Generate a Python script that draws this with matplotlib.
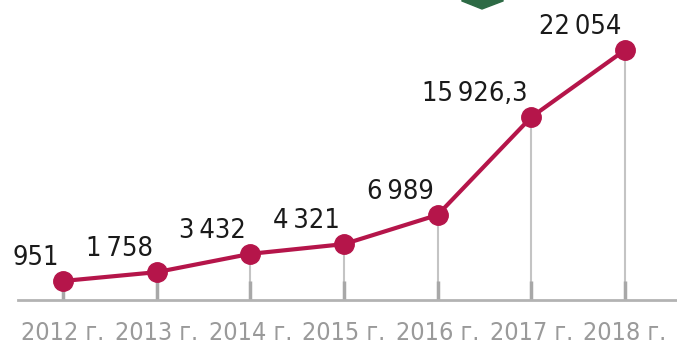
import numpy as np
import matplotlib.pyplot as plt
from matplotlib.patches import Polygon

# ========== данные ==========
years = ['2012 г.', '2013 г.', '2014 г.', '2015 г.', '2016 г.', '2017 г.', '2018 г.']
values = [951, 1758, 3432, 4321, 6989, 15926.3, 22054]
value_labels = ['951', '1758', '3432', '4321', '6989', '15926,3', '22054']
# =============================

LINE_COLOR = '#b5154a'
plt.rcParams['font.family'] = ['DejaVu Sans']
plt.rcParams['font.stretch'] = 'condensed'

W, H, DPI = 677, 347, 100
fig = plt.figure(figsize=(W / DPI, H / DPI), dpi=DPI)

# оси: базовая линия на y=300 px, от x=18 px до правого края
ax = fig.add_axes([18 / W, (H - 300) / H, (W - 18) / W, 270 / H])
x = np.arange(len(years))

ax.set_xlim(-0.48, len(years) - 1 + 0.555)
# 951 около 281 px, 22054 около 50 px
k = (281 - 50) / (values[-1] - values[0])
y0 = values[0] - (300 - 281) / k
ax.set_ylim(y0, y0 + 270 / k)

# вертикальные линии от точки до оси
ax.vlines(x, y0, values, color='#c4c4c4', linewidth=1.5, zorder=1)
ax.plot(x, values, color=LINE_COLOR, linewidth=3, marker='o', markersize=14,
        solid_capstyle='round', zorder=3)

def fmt(s):
    # разделитель тысяч — тонкий пробел
    if ',' in s:
        a, b = s.split(',')
    else:
        a, b = s, None
    if len(a) > 3:
        a = a[:-3] + '\u2009' + a[-3:]
    return a + (',' + b if b else '')

for xi, v, lab in zip(x, values, value_labels):
    ax.annotate(fmt(lab), (xi, v), xytext=(-4, 10), textcoords='offset pixels',
                ha='right', va='bottom', fontsize=19.5, color='#1a1a1a')

for s in ['top', 'right', 'left']:
    ax.spines[s].set_visible(False)
ax.spines['bottom'].set_color('#b3b3b3')
ax.spines['bottom'].set_linewidth(2)
ax.set_yticks([])
ax.set_xticks(x)
ax.set_xticklabels(years, fontsize=18, color='#9a9a9a')
ax.tick_params(axis='x', direction='in', length=14, width=2.5, color='#a8a8a8', pad=15)

# зелёный значок сверху
shape = Polygon([(462 / W, 1.0), (503 / W, 1.0), (503 / W, 1 - 1 / H),
                 (482 / W, 1 - 9 / H), (462 / W, 1 - 1 / H)],
                closed=True, transform=fig.transFigure, color='#2d6a45', zorder=5)
fig.patches.append(shape)

fig.savefig('out.png', dpi=DPI)
